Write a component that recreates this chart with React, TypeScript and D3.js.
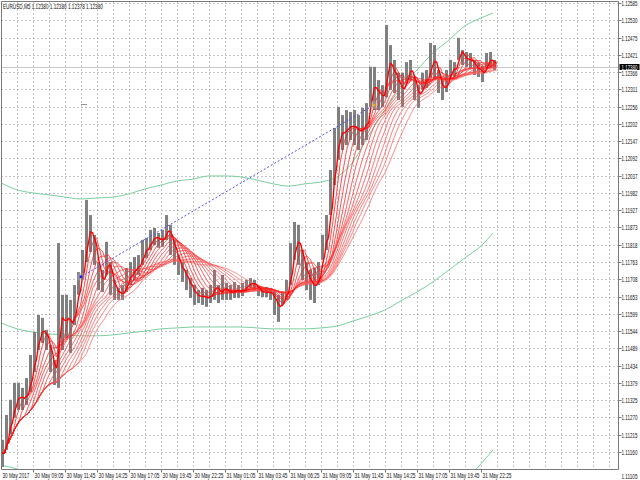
import { useEffect, useRef } from "react"
import * as d3 from "d3"

const chartTitle = "EURUSD,M5  1.12380 1.12380 1.12378 1.12380"
const bidPrice = 1.1238
const bidLabel = "1.12380"

// * M5 bars, four bars per slot (slot 0 = leftmost bars)
const barHigh = [
  1.11199, 1.11278, 1.11326, 1.1138, 1.1138, 1.11364, 1.11395, 1.11468, 1.11541, 1.11595,
  1.11586, 1.11548, 1.115, 1.11452, 1.11823, 1.11659, 1.11659, 1.11643, 1.1169, 1.11731,
  1.11801, 1.1196, 1.11912, 1.11849, 1.11763, 1.11738, 1.11827, 1.11763, 1.11706, 1.11681,
  1.1169, 1.11744, 1.11763, 1.11779, 1.11785, 1.11833, 1.11839, 1.11865, 1.11871, 1.11855,
  1.11865, 1.11912, 1.11881, 1.11833, 1.11785, 1.11763, 1.11738, 1.11712, 1.1169, 1.11674,
  1.11681, 1.11674, 1.1169, 1.11738, 1.1169, 1.11722, 1.11697, 1.1169, 1.117, 1.1169,
  1.11697, 1.11706, 1.11712, 1.11706, 1.11687, 1.11681, 1.11684, 1.11681, 1.11674, 1.11659,
  1.11665, 1.11706, 1.11823, 1.1189, 1.11881, 1.11801, 1.11763, 1.11738, 1.11744, 1.11763,
  1.11849, 1.11912, 1.12055, 1.12188, 1.12255, 1.12229, 1.12245, 1.12239, 1.12245, 1.12229,
  1.12252, 1.12267, 1.12382, 1.12382, 1.1234, 1.12324, 1.12515, 1.12451, 1.12404, 1.12363,
  1.12363, 1.12397, 1.12404, 1.1235, 1.12324, 1.12363, 1.12372, 1.12458, 1.12451, 1.12372,
  1.1234, 1.12372, 1.12404, 1.12397, 1.12474, 1.12435, 1.12429, 1.12426, 1.12404, 1.12394,
  1.12385, 1.12426, 1.12429, 1.12404,
]
const barLow = [
  1.11113, 1.11167, 1.11215, 1.11269, 1.11294, 1.11294, 1.1131, 1.11351, 1.11414, 1.11484,
  1.11506, 1.11484, 1.11414, 1.11373, 1.11364, 1.11484, 1.11522, 1.11475, 1.11563, 1.11659,
  1.11706, 1.11763, 1.11795, 1.11754, 1.11674, 1.11668, 1.11722, 1.11659, 1.11643, 1.11643,
  1.11643, 1.11668, 1.1169, 1.11706, 1.11722, 1.11754, 1.11776, 1.11801, 1.11817, 1.11808,
  1.11811, 1.11833, 1.11785, 1.11754, 1.11722, 1.117, 1.11674, 1.11649, 1.11627, 1.11633,
  1.11627, 1.11621, 1.11633, 1.11643, 1.11633, 1.11643, 1.11643, 1.11643, 1.11649, 1.11649,
  1.11655, 1.11674, 1.11681, 1.11674, 1.11655, 1.11652, 1.11652, 1.11643, 1.11595, 1.11573,
  1.11627, 1.11643, 1.1169, 1.1177, 1.11754, 1.11706, 1.11674, 1.11643, 1.11633, 1.1169,
  1.1177, 1.11801, 1.11912, 1.12007, 1.12087, 1.12118, 1.12134, 1.1215, 1.12134, 1.12118,
  1.12134, 1.1215, 1.12255, 1.12245, 1.12245, 1.12255, 1.12286, 1.12309, 1.12299, 1.12277,
  1.12255, 1.12331, 1.1234, 1.12277, 1.12252, 1.12309, 1.12315, 1.12347, 1.1234, 1.12299,
  1.12277, 1.12302, 1.1235, 1.1235, 1.12404, 1.12388, 1.12382, 1.12378, 1.12356, 1.1235,
  1.12334, 1.12378, 1.12378, 1.12372,
]
const barsPerSlot = 4

// * Moving average ribbon periods (in M5 bars), fastest first
const maPeriods = [6, 12, 18, 24, 30, 36, 42, 48, 54, 60, 66, 72, 78, 86]

// * Green bands, sampled every 16 bars
const bandBars = [
  0, 16, 32, 48, 64, 80, 96, 112, 128, 144, 160, 176, 192, 208, 224, 240, 256, 272, 288, 304, 320,
  336, 352, 368, 384, 400, 416, 432, 448, 464, 480, 492,
]
const upperBand = [
  1.12014, 1.11992, 1.11982, 1.11976, 1.11969, 1.11963, 1.11966, 1.11969, 1.11979, 1.11995,
  1.12007, 1.1202, 1.12026, 1.12036, 1.12036, 1.12033, 1.12023, 1.12011, 1.12004, 1.12011,
  1.12017, 1.12033, 1.12081, 1.12166, 1.12245, 1.12315, 1.12372, 1.12426, 1.12467, 1.12512,
  1.12537, 1.12553,
]
const lowerBand = [
  1.1157, 1.11551, 1.11541, 1.11535, 1.11532, 1.11529, 1.11529, 1.11532, 1.11538, 1.11544,
  1.11551, 1.11554, 1.11557, 1.11557, 1.11557, 1.11557, 1.11554, 1.11551, 1.11551, 1.11551,
  1.11554, 1.1156, 1.11576, 1.11592, 1.11611, 1.1164, 1.11668, 1.117, 1.11738, 1.11776,
  1.11814, 1.11855,
]
const outerBand: (number | null)[] = [
  1.11119, 1.11107, 1.11091, null, null, null, null, null, null, null, null, null, null, null,
  null, null, null, null, null, null, null, null, null, null, null, null, null, null, null,
  1.11066, 1.11123, 1.11167,
]

// * Dotted trend line and marker
const trendBars = [80, 373]
const trendPrices = [1.11716, 1.12261]
const markBars = [80, 86]
const markPrice = 1.12264

// * Axis labels
const priceTicks = [
  1.12585, 1.1253, 1.12475, 1.12421, 1.12366, 1.12311, 1.12256, 1.12202, 1.12147, 1.12092,
  1.12037, 1.11982, 1.11927, 1.11873, 1.11818, 1.11763, 1.11708, 1.11653, 1.11599, 1.11544,
  1.11489, 1.11434, 1.11379, 1.11325, 1.1127, 1.11215, 1.1116,
]
const bottomPrice = 1.11105
const timeLabels = [
  "30 May 2017", "30 May 09:05", "30 May 11:45", "30 May 14:25", "30 May 17:05", "30 May 19:45",
  "30 May 22:25", "31 May 01:05", "31 May 03:45", "31 May 06:25", "31 May 09:05", "31 May 11:45",
  "31 May 14:25", "31 May 17:05", "31 May 19:45", "31 May 22:25",
]
const labelEvery = 32
const gridEvery = 16

type G = d3.Selection<SVGGElement, unknown, null, undefined>

// * Small terminal-style text, squeezed to a fixed width
function fitText(g: G, str: string, tx: number, ty: number, w: number, fill = "#111") {
  const t = g.append("text").attr("fill", fill).text(str)
  const n = (t.node() as SVGTextElement).getComputedTextLength() || w
  t.attr("transform", `translate(${tx},${ty}) scale(${w / n},1)`)
}

export default function App() {
  const svgRef = useRef<SVGSVGElement>(null)

  useEffect(() => {
    if (!svgRef.current) return
    const svg = d3.select(svgRef.current)
    svg.selectAll("*").remove()

    const W = 640
    const H = 480
    const left = 1
    const top = 1
    const right = 618.5
    const bottom = 469.5
    const font = "'Liberation Sans', Arial, sans-serif"

    svg.attr("width", W).attr("height", H)
    svg.append("rect").attr("width", W).attr("height", H).attr("fill", "#fff")

    const x = d3.scaleLinear().domain([0, right - left - 1]).range([left, right - 1])
    const y = d3.scaleLinear().domain([bottomPrice, 1.12594]).range([bottom, 0])

    svg
      .append("defs")
      .append("clipPath")
      .attr("id", "plot")
      .append("rect")
      .attr("x", left)
      .attr("y", top)
      .attr("width", right - left)
      .attr("height", bottom - top)

    // * Grid
    const grid = svg.append("g").attr("stroke", "#c6c6c6").attr("stroke-dasharray", "2,2").attr("stroke-width", 1)
    d3.range(gridEvery, right - left - 4, gridEvery).forEach((b) => {
      const gx = Math.round(x(b)) + 0.5
      grid.append("line").attr("x1", gx).attr("x2", gx).attr("y1", top).attr("y2", bottom)
    })
    priceTicks.forEach((p) => {
      const gy = Math.round(y(p)) + 0.5
      grid.append("line").attr("x1", left).attr("x2", right).attr("y1", gy).attr("y2", gy)
    })

    const plot = svg.append("g").attr("clip-path", "url(#plot)")

    // * Bid line
    const by = Math.round(y(bidPrice)) + 0.5
    plot.append("line").attr("x1", left).attr("x2", right).attr("y1", by).attr("y2", by).attr("stroke", "#c8c8c8")

    // * Bands
    const bandLine = d3
      .line<number | null>()
      .defined((d) => d != null)
      .x((_, i) => x(bandBars[i]))
      .y((d) => y(d as number))
      .curve(d3.curveMonotoneX)
    ;[upperBand, lowerBand, outerBand].forEach((band) => {
      plot.append("path").attr("d", bandLine(band)).attr("fill", "none").attr("stroke", "#7ccf9f").attr("stroke-width", 1)
    })

    // * Price bars
    plot
      .append("g")
      .selectAll("rect")
      .data(barHigh)
      .join("rect")
      .attr("x", (_, i) => x(i * barsPerSlot))
      .attr("width", barsPerSlot - 1)
      .attr("y", (d) => y(d))
      .attr("height", (d, i) => Math.max(1, y(barLow[i]) - y(d)))
      .attr("fill", "#808080")

    // * Moving average ribbon: simple MAs of the median price, per bar
    const median = barHigh.map((h, i) => (h + barLow[i]) / 2)
    const perBar = d3.range(median.length * barsPerSlot).map((b) => median[Math.floor(b / barsPerSlot)])
    const maLine = d3
      .line<number>()
      .x((_, b) => x(b + 0.5))
      .y((d) => y(d))
      .curve(d3.curveMonotoneX)
    const ribbon = maPeriods.map((period) =>
      perBar.map((_, b) => d3.mean(perBar.slice(Math.max(0, b - period + 1), b + 1)) as number)
    )
    const shade = d3.interpolateRgb("#ff1010", "#ff6464")
    for (let idx = ribbon.length - 1; idx >= 0; idx--) {
      plot
        .append("path")
        .attr("d", maLine(ribbon[idx]))
        .attr("fill", "none")
        .attr("stroke", idx === 0 ? "#ff0000" : shade(idx / (ribbon.length - 1)))
        .attr("stroke-width", idx === 0 ? 1.4 : 0.8)
    }

    // * Dotted trend line
    plot
      .append("line")
      .attr("x1", x(trendBars[0]))
      .attr("y1", y(trendPrices[0]))
      .attr("x2", x(trendBars[1]))
      .attr("y2", y(trendPrices[1]))
      .attr("stroke", "#5050ff")
      .attr("stroke-width", 1)
      .attr("stroke-dasharray", "2,2")
    trendBars.forEach((b, i) => {
      plot.append("circle").attr("cx", x(b)).attr("cy", y(trendPrices[i])).attr("r", 4).attr("fill", "#a0a0a0").attr("opacity", 0.55)
      plot
        .append("circle")
        .attr("cx", x(b))
        .attr("cy", y(trendPrices[i]))
        .attr("r", 1.5)
        .attr("fill", i === 0 ? "#1a1aff" : "#f0b000")
    })
    plot
      .append("line")
      .attr("x1", x(markBars[0]))
      .attr("x2", x(markBars[1]))
      .attr("y1", Math.round(y(markPrice)) + 0.5)
      .attr("y2", Math.round(y(markPrice)) + 0.5)
      .attr("stroke", "#909090")

    // * Frame
    svg
      .append("path")
      .attr("d", `M${left + 0.5},${bottom}V${top + 0.5}H${right}V${bottom}H${left + 0.5}`)
      .attr("fill", "none")
      .attr("stroke", "#7a7a7a")

    // * Price axis
    const axis = svg.append("g").attr("font-family", font).attr("font-size", 7)
    priceTicks.forEach((p) => {
      const ty = Math.round(y(p)) + 0.5
      axis.append("line").attr("x1", right).attr("x2", right + 3).attr("y1", ty).attr("y2", ty).attr("stroke", "#7a7a7a")
      // * Keep the label just under the bid box readable
      const near = ty > by && ty - by < 6
      fitText(axis, p.toFixed(5), right + 3, ty + (near ? 3.5 : 2.5), 16)
    })
    fitText(axis, bottomPrice.toFixed(5), right + 3, bottom + 9, 16)

    // * Bid label box
    axis.append("rect").attr("x", right + 1).attr("y", by - 3.5).attr("width", 20).attr("height", 6).attr("fill", "#000")
    const bidText = axis.append("g").attr("font-size", 6.3)
    fitText(bidText, bidLabel, right + 3, by + 2, 16, "#fff")

    // * Time axis
    timeLabels.forEach((label, k) => {
      const tx = Math.round(x(k * labelEvery)) + 0.5
      if (k > 0) axis.append("line").attr("x1", tx).attr("x2", tx).attr("y1", bottom).attr("y2", bottom + 3).attr("stroke", "#7a7a7a")
      fitText(axis, label, tx + 1, bottom + 8, label.length > 11 ? 29 : 27)
    })

    // * Title
    fitText(axis, chartTitle, 3, 8.5, 100)
  }, [])

  return (
    <div style={{ position: "absolute", left: 0, top: 0 }}>
      <svg ref={svgRef} style={{ display: "block" }}></svg>
    </div>
  )
}
